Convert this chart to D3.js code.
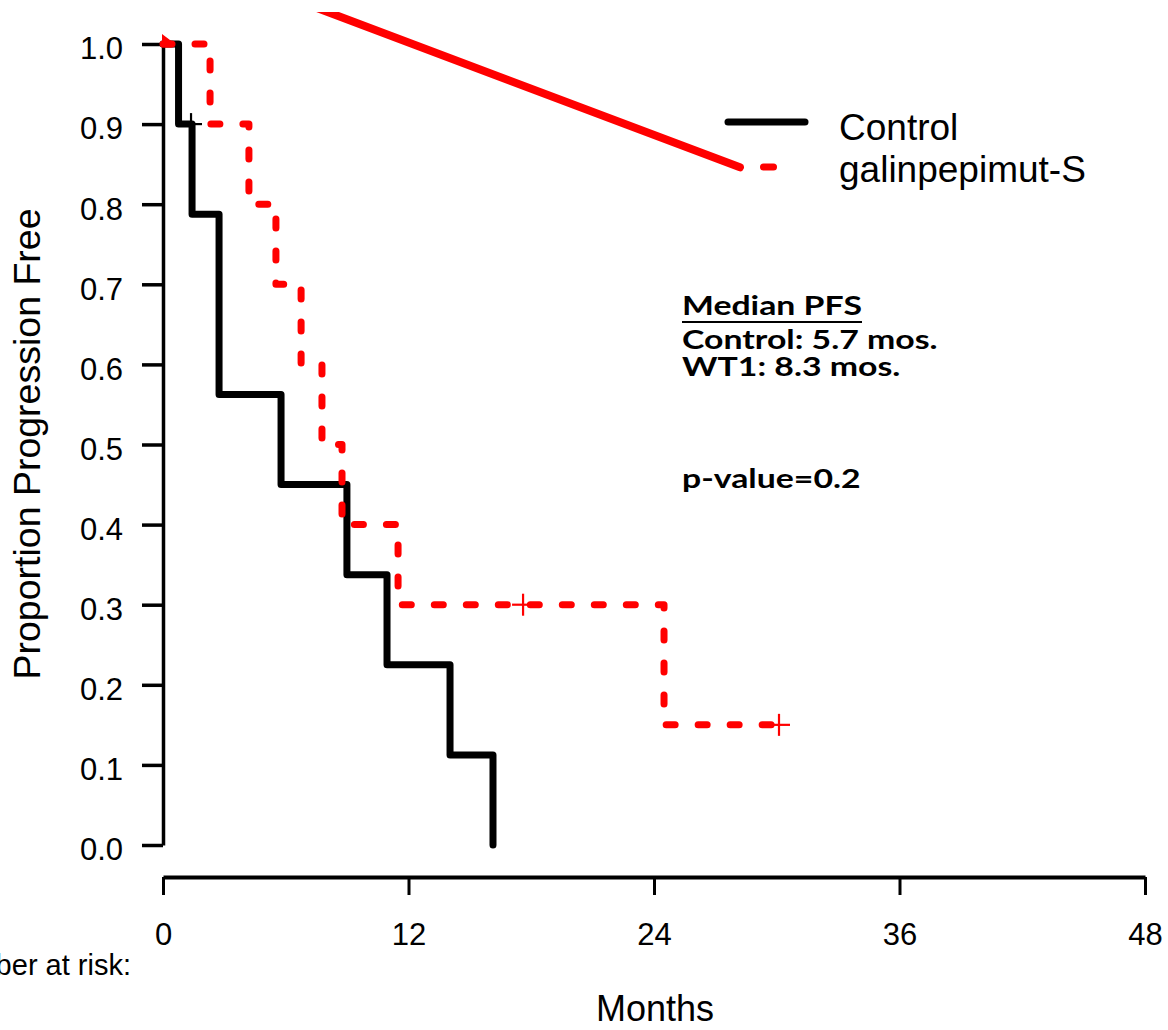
<!DOCTYPE html>
<html>
<head>
<meta charset="utf-8">
<script src="https://cdn.jsdelivr.net/npm/d3@7"></script>
<style>
  html, body { margin: 0; padding: 0; background: #fff; }
  svg { display: block; }
  .axis text { font-family: "Liberation Sans", Arial, sans-serif; font-size: 31px; fill: #000; }
  .axis path, .axis line { stroke: #000; }
</style>
</head>
<body>
<svg id="chart" width="1168" height="1030"></svg>
<script>
// 数据
const monthTicks = [0, 12, 24, 36, 48];
const propTicks = [0, 0.1, 0.2, 0.3, 0.4, 0.5, 0.6, 0.7, 0.8, 0.9, 1.0];

// Control 组：事件时间与事件后的生存比例
const controlTimes = [0, 0.76, 1.42, 2.74, 5.77, 8.99, 10.95, 14.03, 16.13];
const controlSurv  = [1.0, 0.9, 0.7875, 0.5625, 0.45, 0.3375, 0.225, 0.1125, 0];
const controlCensorTimes = [1.37];
const controlCensorSurv  = [0.9];

// galinpepimut-S 组
const galTimes = [0, 2.30, 4.20, 5.52, 6.75, 7.77, 8.75, 11.49, 24.49, 30.11];
const galSurv  = [1.0, 0.9, 0.8, 0.7, 0.6, 0.5, 0.4, 0.3, 0.15, 0.15];
const galCensorTimes = [17.6, 30.11];
const galCensorSurv  = [0.3, 0.15];

// 图中多出来的一条红色斜线（原图的残留）
const strayTimes = [7.0, 28.2];
const straySurv  = [1.05, 0.846];

const legendLabels = ["Control", "galinpepimut-S"];
const medianLines = ["Control: 5.7 mos.", "WT1: 8.3 mos."];
const pValueText = "p-value=0.2";

const svg = d3.select("#chart");

// 比例尺
const x = d3.scaleLinear().domain([0, 48]).range([163, 1145]);
const y = d3.scaleLinear().domain([0, 1]).range([845, 44]);

const toPoints = (ts, ss) => ts.map((t, i) => [t, ss[i]]);

const stepLine = d3.line()
    .curve(d3.curveStepAfter)
    .x(d => x(d[0]))
    .y(d => y(d[1]));

// Y 轴
const yAxis = svg.append("g")
    .attr("class", "axis")
    .attr("transform", `translate(${x(0)},0)`)
    .call(d3.axisLeft(y)
        .tickValues(propTicks)
        .tickFormat(d3.format(".1f"))
        .tickSize(21)
        .tickSizeOuter(0)
        .tickPadding(19));
yAxis.select(".domain").attr("stroke-width", 3.5);
yAxis.selectAll(".tick line").attr("stroke-width", 3.5);
yAxis.selectAll(".tick text").attr("dy", "0.48em");

// X 轴
const xAxis = svg.append("g")
    .attr("class", "axis")
    .attr("transform", "translate(0,877)")
    .call(d3.axisBottom(x)
        .tickValues(monthTicks)
        .tickSize(18)
        .tickSizeOuter(0)
        .tickPadding(28));
xAxis.select(".domain").attr("stroke-width", 4);
xAxis.selectAll(".tick line").attr("stroke-width", 3);

// 坐标轴标题
svg.append("text")
    .attr("transform", "translate(40,444) rotate(-90)")
    .attr("text-anchor", "middle")
    .style("font-family", "'Liberation Sans', Arial, sans-serif")
    .style("font-size", "37.5px")
    .text("Proportion Progression Free");

svg.append("text")
    .attr("x", 655)
    .attr("y", 1021)
    .attr("text-anchor", "middle")
    .style("font-family", "'Liberation Sans', Arial, sans-serif")
    .style("font-size", "36px")
    .text("Months");

svg.append("text")
    .attr("x", 131)
    .attr("y", 975)
    .attr("text-anchor", "end")
    .style("font-family", "'Liberation Sans', Arial, sans-serif")
    .style("font-size", "29px")
    .text("Number at risk:");

// Control 曲线（黑色实线）
svg.append("path")
    .attr("d", stepLine(toPoints(controlTimes, controlSurv)))
    .attr("fill", "none")
    .attr("stroke", "#000")
    .attr("stroke-width", 7)
    .attr("stroke-linejoin", "round")
    .attr("stroke-linecap", "round");

// galinpepimut-S 曲线（红色虚线）
svg.append("path")
    .attr("d", stepLine(toPoints(galTimes, galSurv)))
    .attr("fill", "none")
    .attr("stroke", "#ff0000")
    .attr("stroke-width", 7)
    .attr("stroke-dasharray", "9 23")
    .attr("stroke-linejoin", "round")
    .attr("stroke-linecap", "round");

// 起点处的小红三角
const x0 = x(0), y0 = y(1);
svg.append("path")
    .attr("d", `M${x0 - 1},${y0 - 10} L${x0 + 11},${y0 - 1} Q${x0 + 13},${y0 + 4} ${x0 + 6},${y0 + 3.5} L${x0 - 1},${y0 + 3.5} Z`)
    .attr("fill", "#ff0000");

// 删失标记
const censorSize = 11;
function drawCensor(ts, ss, color) {
    const pts = toPoints(ts, ss);
    const g = svg.append("g")
        .attr("stroke", color)
        .attr("stroke-width", 2.2);
    g.selectAll("line.h").data(pts).enter().append("line")
        .attr("x1", d => x(d[0]) - censorSize).attr("x2", d => x(d[0]) + censorSize)
        .attr("y1", d => y(d[1])).attr("y2", d => y(d[1]));
    g.selectAll("line.v").data(pts).enter().append("line")
        .attr("x1", d => x(d[0])).attr("x2", d => x(d[0]))
        .attr("y1", d => y(d[1]) - censorSize).attr("y2", d => y(d[1]) + censorSize);
}
drawCensor(controlCensorTimes, controlCensorSurv, "#000");
drawCensor(galCensorTimes, galCensorSurv, "#ff0000");

// 红色斜线（顶部被水平截断）
svg.append("clipPath")
    .attr("id", "strayClip")
    .append("rect")
    .attr("x", 0).attr("y", 12)
    .attr("width", 1168).attr("height", 1018);

svg.append("path")
    .attr("d", d3.line().x(d => x(d[0])).y(d => y(d[1]))(toPoints(strayTimes, straySurv)))
    .attr("clip-path", "url(#strayClip)")
    .attr("fill", "none")
    .attr("stroke", "#ff0000")
    .attr("stroke-width", 8)
    .attr("stroke-linecap", "round");

// 图例
const legend = svg.append("g");
legend.append("line")
    .attr("x1", 728).attr("x2", 805)
    .attr("y1", 122).attr("y2", 122)
    .attr("stroke", "#000")
    .attr("stroke-width", 7)
    .attr("stroke-linecap", "round");
legend.append("line")
    .attr("x1", 763.5).attr("x2", 773.5)
    .attr("y1", 167).attr("y2", 167)
    .attr("stroke", "#ff0000")
    .attr("stroke-width", 7)
    .attr("stroke-linecap", "round");
legend.selectAll("text")
    .data(legendLabels)
    .enter().append("text")
    .attr("x", 839)
    .attr("y", (d, i) => 140 + i * 42)
    .style("font-family", "'Liberation Sans', Arial, sans-serif")
    .style("font-size", "37px")
    .text(d => d);

// 中位 PFS 注释（原图文字横向被拉宽，这里按标题宽度整体缩放）
const note = svg.append("g")
    .style("font-family", "Lato, 'Open Sans', sans-serif")
    .style("font-weight", "bold")
    .style("font-size", "26px");
const title = note.append("text")
    .attr("x", 0).attr("y", 315)
    .text("Median PFS");
const tw = title.node().getComputedTextLength();
const sx = 180 / tw;
note.attr("transform", `translate(682,0) scale(${sx},1)`);
note.append("line")
    .attr("x1", 0).attr("x2", tw)
    .attr("y1", 322).attr("y2", 322)
    .attr("stroke", "#000")
    .attr("stroke-width", 2.2);
note.selectAll("text.m")
    .data(medianLines)
    .enter().append("text")
    .attr("class", "m")
    .attr("x", 0)
    .attr("y", (d, i) => 349 + i * 27)
    .text(d => d);
note.append("text")
    .attr("x", 0).attr("y", 488)
    .text(pValueText);
</script>
</body>
</html>
